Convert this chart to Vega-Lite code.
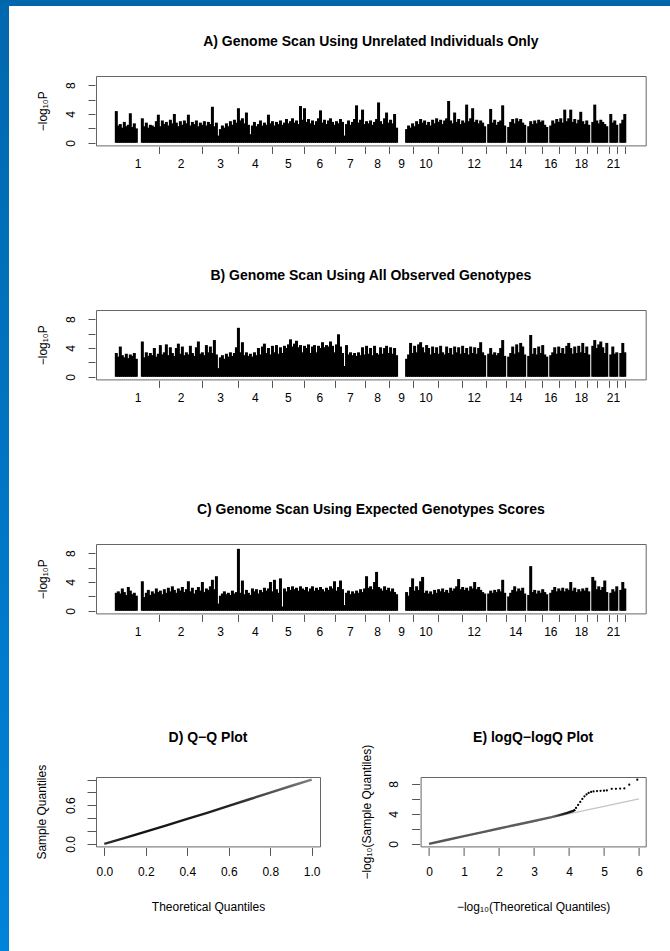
{
  "$schema": "https://vega.github.io/schema/vega-lite/v6.json",
  "background": "white",
  "padding": 0,
  "bounds": "flush",
  "spacing": 0,
  "config": {
    "font": "Liberation Sans",
    "axis": {"grid": false, "domain": false, "tickColor": "#555", "tickWidth": 1, "labelColor": "#000", "labelFontSize": 12, "labelFont": "Liberation Sans", "titleFont": "Liberation Sans", "titleFontSize": 12, "titleFontWeight": "normal", "titleColor": "#000", "labelOverlap": false, "labelFlush": false, "labelBound": false},
    "title": {"fontSize": 14, "fontWeight": "bold", "font": "Liberation Sans", "anchor": "middle", "frame": "group", "color": "#000", "baseline": "bottom"}
  },
  "datasets": {
    "gw": [
      {"p":0,"a":4.4,"b":3.3,"c":2.5},{"p":2,"a":2.4,"b":2.8,"c":2.7},{"p":4,"a":2.6,"b":4.2,"c":2.4},{"p":6,"a":2.1,"b":3.0,"c":3.1},{"p":8,"a":2.9,"b":2.7,"c":2.6},{"p":10,"a":2.3,"b":3.2,"c":2.2},{"p":12,"a":2.5,"b":2.6,"c":3.3},{"p":14,"a":4.1,"b":3.1,"c":2.8},{"p":16,"a":2.2,"b":2.9,"c":2.3},{"p":18,"a":2.7,"b":3.3,"c":2.5},{"p":20,"a":2.0,"b":2.5,"c":2.1},
      {"p":26,"a":3.4,"b":4.9,"c":4.1},{"p":28,"a":2.3,"b":2.7,"c":1.9},{"p":30,"a":2.8,"b":3.4,"c":2.5},{"p":32,"a":2.1,"b":2.9,"c":2.9},{"p":34,"a":2.5,"b":3.3,"c":2.2},{"p":36,"a":2.4,"b":3.0,"c":2.7},{"p":38,"a":2.2,"b":4.0,"c":2.4},
      {"p":40,"a":3.0,"b":2.8,"c":3.1},{"p":42,"a":3.9,"b":3.2,"c":2.6},{"p":44,"a":2.3,"b":4.4,"c":2.8},{"p":46,"a":3.1,"b":3.1,"c":2.3},{"p":48,"a":2.6,"b":3.4,"c":3.0},{"p":50,"a":2.9,"b":4.5,"c":2.5},{"p":52,"a":2.4,"b":3.0,"c":3.2},{"p":54,"a":3.2,"b":4.1,"c":2.7},{"p":56,"a":2.7,"b":3.3,"c":3.4},{"p":58,"a":4.0,"b":2.9,"c":2.9},
      {"p":60,"a":2.8,"b":4.0,"c":2.5},{"p":62,"a":2.3,"b":4.6,"c":3.1},{"p":64,"a":3.0,"b":3.2,"c":2.8},{"p":66,"a":2.5,"b":4.2,"c":3.3},{"p":68,"a":3.1,"b":3.0,"c":2.6},{"p":70,"a":2.7,"b":3.4,"c":3.0},{"p":72,"a":3.9,"b":3.1,"c":4.1},{"p":74,"a":2.4,"b":4.3,"c":2.7},{"p":76,"a":2.9,"b":3.3,"c":3.2},{"p":78,"a":2.6,"b":2.9,"c":2.4},
      {"p":80,"a":3.1,"b":4.1,"c":2.9},{"p":82,"a":2.3,"b":4.9,"c":3.3},{"p":84,"a":2.8,"b":3.2,"c":2.8},{"p":86,"a":2.5,"b":3.4,"c":4.0},{"p":88,"a":3.0,"b":3.0,"c":2.6},{"p":90,"a":2.4,"b":4.4,"c":3.1},{"p":92,"a":2.9,"b":3.4,"c":2.9},{"p":94,"a":2.6,"b":4.2,"c":3.4},{"p":96,"a":5.0,"b":3.3,"c":4.3},{"p":98,"a":2.3,"b":5.1,"c":3.0},
      {"p":100,"a":2.8,"b":3.1,"c":4.8},{"p":102,"a":1.0,"b":1.2,"c":1.0},{"p":104,"a":1.9,"b":2.7,"c":2.1},{"p":106,"a":2.4,"b":3.0,"c":2.4},{"p":108,"a":2.1,"b":2.5,"c":2.7},{"p":110,"a":2.7,"b":3.2,"c":2.3},{"p":112,"a":2.3,"b":2.8,"c":2.5},{"p":114,"a":3.0,"b":3.4,"c":2.2},{"p":116,"a":2.5,"b":2.9,"c":2.8},{"p":118,"a":3.2,"b":3.3,"c":2.4},
      {"p":120,"a":2.8,"b":4.1,"c":2.6},{"p":122,"a":4.8,"b":6.8,"c":8.6},{"p":124,"a":3.1,"b":3.4,"c":2.5},{"p":126,"a":3.4,"b":4.8,"c":4.2},{"p":128,"a":2.7,"b":3.0,"c":2.3},{"p":130,"a":4.2,"b":3.4,"c":2.9},{"p":132,"a":2.5,"b":2.9,"c":2.5},{"p":134,"a":1.2,"b":3.2,"c":2.2},{"p":136,"a":2.4,"b":2.8,"c":3.1},{"p":138,"a":2.9,"b":3.4,"c":2.7},
      {"p":140,"a":2.3,"b":3.0,"c":3.0},{"p":142,"a":2.6,"b":4.0,"c":2.4},{"p":144,"a":3.1,"b":3.1,"c":2.9},{"p":146,"a":2.4,"b":4.2,"c":2.6},{"p":148,"a":2.8,"b":4.6,"c":3.2},{"p":150,"a":2.5,"b":3.3,"c":2.8},{"p":152,"a":3.9,"b":4.0,"c":3.1},{"p":154,"a":2.7,"b":3.1,"c":4.0},{"p":156,"a":3.0,"b":4.3,"c":2.7},{"p":158,"a":2.4,"b":3.4,"c":4.3},
      {"p":160,"a":2.9,"b":4.4,"c":3.0},{"p":162,"a":2.6,"b":3.2,"c":2.5},{"p":164,"a":3.1,"b":4.1,"c":4.5},{"p":166,"a":2.5,"b":3.3,"c":0.6},{"p":168,"a":2.8,"b":4.3,"c":3.1},{"p":170,"a":3.3,"b":4.0,"c":2.7},{"p":172,"a":2.7,"b":4.5,"c":3.3},{"p":174,"a":3.0,"b":5.2,"c":2.9},{"p":176,"a":3.4,"b":4.2,"c":3.4},{"p":178,"a":2.8,"b":4.6,"c":3.0},
      {"p":180,"a":3.1,"b":5.0,"c":3.2},{"p":182,"a":2.6,"b":4.1,"c":2.8},{"p":184,"a":5.1,"b":4.4,"c":3.4},{"p":186,"a":3.2,"b":3.4,"c":3.1},{"p":188,"a":4.8,"b":4.3,"c":2.9},{"p":190,"a":2.9,"b":4.0,"c":3.3},{"p":192,"a":3.3,"b":4.5,"c":2.7},{"p":194,"a":2.7,"b":3.3,"c":3.1},{"p":196,"a":3.1,"b":4.2,"c":3.4},{"p":198,"a":2.5,"b":4.4,"c":2.8},
      {"p":200,"a":3.0,"b":3.4,"c":3.2},{"p":202,"a":3.4,"b":4.3,"c":2.9},{"p":204,"a":4.5,"b":4.0,"c":3.3},{"p":206,"a":2.8,"b":4.8,"c":3.0},{"p":208,"a":3.2,"b":4.1,"c":2.7},{"p":210,"a":2.6,"b":4.4,"c":3.2},{"p":212,"a":3.1,"b":4.2,"c":2.9},{"p":214,"a":3.4,"b":4.9,"c":3.4},{"p":216,"a":2.9,"b":4.3,"c":3.1},{"p":218,"a":2.5,"b":3.4,"c":4.1},
      {"p":220,"a":3.0,"b":4.5,"c":2.8},{"p":222,"a":2.7,"b":5.9,"c":3.3},{"p":224,"a":3.3,"b":4.2,"c":4.2},{"p":226,"a":2.9,"b":3.3,"c":3.0},{"p":228,"a":1.0,"b":1.5,"c":0.8},{"p":230,"a":2.6,"b":4.4,"c":2.5},{"p":232,"a":3.1,"b":3.1,"c":2.8},{"p":234,"a":2.5,"b":3.4,"c":2.3},{"p":236,"a":2.9,"b":3.0,"c":2.7},{"p":238,"a":3.3,"b":3.3,"c":2.4},
      {"p":240,"a":5.2,"b":2.9,"c":2.8},{"p":242,"a":2.8,"b":3.4,"c":2.5},{"p":244,"a":3.2,"b":3.0,"c":3.0},{"p":246,"a":4.6,"b":4.1,"c":2.6},{"p":248,"a":2.6,"b":3.1,"c":3.1},{"p":250,"a":3.0,"b":4.3,"c":4.8},{"p":252,"a":2.7,"b":3.2,"c":3.2},{"p":254,"a":3.1,"b":4.0,"c":3.4},{"p":256,"a":2.5,"b":3.0,"c":3.0},{"p":258,"a":2.9,"b":4.3,"c":4.0},
      {"p":260,"a":3.3,"b":3.3,"c":5.4},{"p":262,"a":5.6,"b":3.1,"c":3.3},{"p":264,"a":3.0,"b":4.1,"c":3.1},{"p":266,"a":2.6,"b":3.2,"c":2.8},{"p":268,"a":3.4,"b":4.0,"c":3.4},{"p":270,"a":4.2,"b":4.3,"c":2.9},{"p":272,"a":2.8,"b":3.3,"c":3.2},{"p":274,"a":3.2,"b":4.1,"c":2.7},{"p":276,"a":2.7,"b":3.2,"c":3.1},{"p":278,"a":4.0,"b":4.0,"c":2.6},
      {"p":280,"a":2.1,"b":3.0,"c":2.3},
      {"p":290,"a":1.9,"b":2.5,"c":2.6},{"p":292,"a":2.4,"b":3.1,"c":2.1},{"p":294,"a":2.1,"b":4.7,"c":3.3},{"p":296,"a":2.7,"b":3.3,"c":4.5},{"p":298,"a":2.3,"b":4.3,"c":2.8},
      {"p":300,"a":3.0,"b":3.4,"c":3.4},{"p":302,"a":2.6,"b":4.5,"c":2.9},{"p":304,"a":3.3,"b":4.8,"c":4.1},{"p":306,"a":2.8,"b":4.1,"c":4.7},{"p":308,"a":3.1,"b":3.4,"c":2.5},{"p":310,"a":2.5,"b":4.4,"c":2.8},{"p":312,"a":2.9,"b":4.0,"c":2.4},{"p":314,"a":2.4,"b":3.1,"c":2.7},{"p":316,"a":3.2,"b":4.2,"c":2.3},{"p":318,"a":2.7,"b":3.3,"c":2.9},
      {"p":320,"a":3.4,"b":4.1,"c":2.5},{"p":322,"a":2.9,"b":3.2,"c":3.0},{"p":324,"a":3.2,"b":4.3,"c":2.7},{"p":326,"a":2.6,"b":3.4,"c":3.1},{"p":328,"a":3.1,"b":3.1,"c":2.6},{"p":330,"a":3.4,"b":4.2,"c":2.9},{"p":332,"a":5.8,"b":3.3,"c":2.5},{"p":334,"a":3.1,"b":4.0,"c":3.2},{"p":336,"a":2.7,"b":3.1,"c":2.8},{"p":338,"a":4.2,"b":4.2,"c":3.1},
      {"p":340,"a":2.9,"b":3.4,"c":3.4},{"p":342,"a":3.3,"b":4.1,"c":4.4},{"p":344,"a":2.6,"b":3.2,"c":3.0},{"p":346,"a":3.1,"b":4.3,"c":3.3},{"p":348,"a":2.8,"b":3.3,"c":2.9},{"p":350,"a":5.3,"b":4.0,"c":3.2},{"p":352,"a":3.0,"b":3.1,"c":2.8},{"p":354,"a":3.4,"b":4.2,"c":3.4},{"p":356,"a":4.8,"b":3.3,"c":3.1},{"p":358,"a":2.9,"b":4.1,"c":4.0},
      {"p":360,"a":3.2,"b":3.2,"c":3.0},{"p":362,"a":2.7,"b":4.0,"c":3.3},{"p":364,"a":3.1,"b":4.8,"c":2.9},{"p":366,"a":2.8,"b":3.4,"c":2.6},{"p":368,"a":2.3,"b":3.0,"c":2.4},
      {"p":372,"a":2.6,"b":3.2,"c":2.4},{"p":374,"a":4.7,"b":4.0,"c":2.8},{"p":376,"a":2.8,"b":3.1,"c":2.5},{"p":378,"a":3.2,"b":3.4,"c":2.9},{"p":380,"a":2.5,"b":3.0,"c":2.6},{"p":382,"a":2.9,"b":3.3,"c":3.0},{"p":384,"a":3.1,"b":4.0,"c":2.7},{"p":386,"a":5.2,"b":5.1,"c":4.3},{"p":388,"a":2.4,"b":2.9,"c":2.5},
      {"p":392,"a":2.2,"b":2.8,"c":2.0},{"p":394,"a":2.9,"b":3.3,"c":2.5},{"p":396,"a":3.3,"b":4.2,"c":2.9},{"p":398,"a":2.7,"b":3.2,"c":3.4},{"p":400,"a":3.4,"b":4.5,"c":2.7},{"p":402,"a":3.0,"b":3.4,"c":3.1},{"p":404,"a":3.3,"b":4.7,"c":2.8},{"p":406,"a":2.8,"b":4.2,"c":3.2},{"p":408,"a":2.5,"b":3.1,"c":2.4},
      {"p":412,"a":2.3,"b":2.9,"c":2.2},{"p":414,"a":3.0,"b":5.8,"c":6.2},{"p":416,"a":2.6,"b":3.2,"c":2.6},{"p":418,"a":3.1,"b":4.0,"c":2.9},{"p":420,"a":2.7,"b":3.1,"c":2.4},{"p":422,"a":3.2,"b":4.2,"c":2.8},{"p":424,"a":2.9,"b":3.3,"c":2.5},{"p":426,"a":3.1,"b":4.4,"c":3.0},{"p":428,"a":2.5,"b":3.1,"c":2.6},{"p":430,"a":2.2,"b":2.8,"c":2.3},
      {"p":434,"a":2.4,"b":3.0,"c":2.5},{"p":436,"a":3.1,"b":3.4,"c":2.9},{"p":438,"a":2.7,"b":4.1,"c":3.3},{"p":440,"a":3.3,"b":3.2,"c":2.7},{"p":442,"a":2.9,"b":4.2,"c":3.1},{"p":444,"a":3.4,"b":3.3,"c":2.8},{"p":446,"a":2.8,"b":4.0,"c":3.2},{"p":448,"a":4.6,"b":3.2,"c":2.7},{"p":450,"a":3.0,"b":4.3,"c":3.1},{"p":452,"a":3.4,"b":4.7,"c":2.9},
      {"p":454,"a":4.6,"b":4.0,"c":4.0},{"p":456,"a":2.9,"b":3.2,"c":2.8},{"p":458,"a":3.3,"b":4.2,"c":3.2},{"p":460,"a":2.7,"b":3.3,"c":2.6},{"p":462,"a":3.2,"b":4.3,"c":3.0},{"p":464,"a":4.3,"b":3.4,"c":2.7},{"p":466,"a":3.0,"b":4.7,"c":3.1},{"p":468,"a":2.6,"b":3.3,"c":2.8},{"p":470,"a":3.1,"b":4.2,"c":3.2},{"p":472,"a":2.5,"b":3.1,"c":2.7},
      {"p":476,"a":2.9,"b":4.3,"c":4.7},{"p":478,"a":5.3,"b":5.1,"c":4.2},{"p":480,"a":3.1,"b":4.0,"c":3.0},{"p":482,"a":2.7,"b":4.5,"c":3.4},{"p":484,"a":3.2,"b":4.9,"c":2.9},{"p":486,"a":2.9,"b":4.1,"c":3.3},{"p":488,"a":2.6,"b":3.3,"c":4.2},{"p":490,"a":2.3,"b":4.7,"c":2.6},
      {"p":494,"a":4.0,"b":3.1,"c":2.5},{"p":496,"a":2.8,"b":4.2,"c":3.0},{"p":498,"a":3.1,"b":3.2,"c":2.7},{"p":500,"a":2.5,"b":3.4,"c":3.4},
      {"p":504,"a":2.7,"b":3.3,"c":2.9},{"p":506,"a":3.2,"b":4.7,"c":4.0},{"p":508,"a":4.0,"b":3.4,"c":3.1}
    ],
    "qq": [
      {"t":0,"s":0},{"t":0.1,"s":0.093},{"t":0.2,"s":0.19},{"t":0.3,"s":0.288},{"t":0.4,"s":0.387},{"t":0.5,"s":0.487},{"t":0.6,"s":0.59},{"t":0.7,"s":0.694},{"t":0.8,"s":0.797},{"t":0.9,"s":0.9},{"t":1.0,"s":1.0}
    ],
    "ref": [{"x":0,"y":0},{"x":6,"y":6}],
    "lqline": [
      {"x":0,"y":0},{"x":0.5,"y":0.52},{"x":1,"y":1.03},{"x":1.5,"y":1.54},{"x":2,"y":2.05},{"x":2.5,"y":2.55},{"x":3,"y":3.05},{"x":3.5,"y":3.56},{"x":3.75,"y":3.86},{"x":3.95,"y":4.12},{"x":4.1,"y":4.35},{"x":4.18,"y":4.55}
    ],
    "lqpts": [
      {"x":4.2,"y":4.8},{"x":4.26,"y":5.2},{"x":4.32,"y":5.6},{"x":4.38,"y":6.0},{"x":4.44,"y":6.35},{"x":4.5,"y":6.6},{"x":4.56,"y":6.8},{"x":4.63,"y":6.92},{"x":4.7,"y":7.0},{"x":4.8,"y":7.05},{"x":4.9,"y":7.08},{"x":5.0,"y":7.1},{"x":5.08,"y":7.12},{"x":5.22,"y":7.35},{"x":5.34,"y":7.35},{"x":5.46,"y":7.38},{"x":5.58,"y":7.4},{"x":5.72,"y":7.9},{"x":5.95,"y":8.56}
    ]
  },
  "vconcat": [
    {"width": 670, "height": 6, "data": {"values": [{}]}, "mark": {"type": "point", "opacity": 0}, "encoding": {}, "view": {"fill": "#0167AD", "stroke": null}},
    {
      "bounds": "flush",
      "spacing": 87,
      "hconcat": [
        {"width": 9, "height": 945, "data": {"values": [{}]}, "mark": {"type": "point", "opacity": 0}, "encoding": {}, "view": {"fill": {"gradient": "linear", "x1": 0, "y1": 0, "x2": 0, "y2": 1, "stops": [{"offset": 0, "color": "#0068AE"}, {"offset": 1, "color": "#0083DA"}]}, "stroke": null}},
        {
          "bounds": "flush",
          "spacing": 0,
          "vconcat": [
            {"width": 1, "height": 69.3, "data": {"values": [{}]}, "mark": {"type": "point", "opacity": 0}, "encoding": {}, "view": {"stroke": null}},
            {
              "width": 549.7, "height": 69.4,
              "title": {"text": "A) Genome Scan Using Unrelated Individuals Only", "offset": 27},
              "data": {"name": "gw"},
              "mark": {"type": "rule", "strokeWidth": 3, "color": "#000"},
              "encoding": {
                "x": {"field": "p", "type": "quantitative", "scale": {"domain": [-20.3, 528.9], "nice": false, "zero": false},
                  "axis": {"title": null, "values": [42.6,86,121.3,155.3,187.3,218.3,248.3,272.6,296.6,321,345.3,369,389,408.3,425.3,442,458.3,470,480.6,492,500.3,508.6,21.3,64.3,103.65,138.3,171.3,202.8,233.3,260.45,284.6,308.8,357.15,398.65,433.65,464.15,496.15],
                    "labelExpr": "indexof([21.3,64.3,103.65,138.3,171.3,202.8,233.3,260.45,284.6,308.8,357.15,398.65,433.65,464.15,496.15], datum.value) >= 0 ? ['1','2','3','4','5','6','7','8','9','10','12','14','16','18','21'][indexof([21.3,64.3,103.65,138.3,171.3,202.8,233.3,260.45,284.6,308.8,357.15,398.65,433.65,464.15,496.15], datum.value)] : ''",
                    "tickOpacity": {"condition": {"test": "indexof([42.6,86,121.3,155.3,187.3,218.3,248.3,272.6,296.6,321,345.3,369,389,408.3,425.3,442,458.3,470,480.6,492,500.3,508.6], datum.value) >= 0", "value": 1}, "value": 0},
                    "tickSize": 7, "offset": 1, "labelPadding": 5}},
                "y": {"field": "a", "type": "quantitative", "scale": {"domain": [-0.36, 9.27], "nice": false, "zero": false},
                  "axis": {"title": "−log₁₀P", "values": [0,2,4,6,8], "labelExpr": "datum.value % 4 == 0 ? datum.label : ''", "labelAngle": -90, "labelAlign": "center", "labelBaseline": "bottom", "tickSize": 7, "offset": 1, "labelPadding": 11, "titlePadding": 15}},
                "y2": {"datum": 0}
              },
              "view": {"stroke": "#666"}
            },
            {"width": 1, "height": 163.8, "data": {"values": [{}]}, "mark": {"type": "point", "opacity": 0}, "encoding": {}, "view": {"stroke": null}},
            {
              "width": 549.7, "height": 69.4,
              "title": {"text": "B) Genome Scan Using All Observed Genotypes", "offset": 27},
              "data": {"name": "gw"},
              "mark": {"type": "rule", "strokeWidth": 3, "color": "#000"},
              "encoding": {
                "x": {"field": "p", "type": "quantitative", "scale": {"domain": [-20.3, 528.9], "nice": false, "zero": false},
                  "axis": {"title": null, "values": [42.6,86,121.3,155.3,187.3,218.3,248.3,272.6,296.6,321,345.3,369,389,408.3,425.3,442,458.3,470,480.6,492,500.3,508.6,21.3,64.3,103.65,138.3,171.3,202.8,233.3,260.45,284.6,308.8,357.15,398.65,433.65,464.15,496.15],
                    "labelExpr": "indexof([21.3,64.3,103.65,138.3,171.3,202.8,233.3,260.45,284.6,308.8,357.15,398.65,433.65,464.15,496.15], datum.value) >= 0 ? ['1','2','3','4','5','6','7','8','9','10','12','14','16','18','21'][indexof([21.3,64.3,103.65,138.3,171.3,202.8,233.3,260.45,284.6,308.8,357.15,398.65,433.65,464.15,496.15], datum.value)] : ''",
                    "tickOpacity": {"condition": {"test": "indexof([42.6,86,121.3,155.3,187.3,218.3,248.3,272.6,296.6,321,345.3,369,389,408.3,425.3,442,458.3,470,480.6,492,500.3,508.6], datum.value) >= 0", "value": 1}, "value": 0},
                    "tickSize": 7, "offset": 1, "labelPadding": 5}},
                "y": {"field": "b", "type": "quantitative", "scale": {"domain": [-0.36, 9.27], "nice": false, "zero": false},
                  "axis": {"title": "−log₁₀P", "values": [0,2,4,6,8], "labelExpr": "datum.value % 4 == 0 ? datum.label : ''", "labelAngle": -90, "labelAlign": "center", "labelBaseline": "bottom", "tickSize": 7, "offset": 1, "labelPadding": 11, "titlePadding": 15}},
                "y2": {"datum": 0}
              },
              "view": {"stroke": "#666"}
            },
            {"width": 1, "height": 163.8, "data": {"values": [{}]}, "mark": {"type": "point", "opacity": 0}, "encoding": {}, "view": {"stroke": null}},
            {
              "width": 549.7, "height": 69.4,
              "title": {"text": "C) Genome Scan Using Expected Genotypes Scores", "offset": 27},
              "data": {"name": "gw"},
              "mark": {"type": "rule", "strokeWidth": 3, "color": "#000"},
              "encoding": {
                "x": {"field": "p", "type": "quantitative", "scale": {"domain": [-20.3, 528.9], "nice": false, "zero": false},
                  "axis": {"title": null, "values": [42.6,86,121.3,155.3,187.3,218.3,248.3,272.6,296.6,321,345.3,369,389,408.3,425.3,442,458.3,470,480.6,492,500.3,508.6,21.3,64.3,103.65,138.3,171.3,202.8,233.3,260.45,284.6,308.8,357.15,398.65,433.65,464.15,496.15],
                    "labelExpr": "indexof([21.3,64.3,103.65,138.3,171.3,202.8,233.3,260.45,284.6,308.8,357.15,398.65,433.65,464.15,496.15], datum.value) >= 0 ? ['1','2','3','4','5','6','7','8','9','10','12','14','16','18','21'][indexof([21.3,64.3,103.65,138.3,171.3,202.8,233.3,260.45,284.6,308.8,357.15,398.65,433.65,464.15,496.15], datum.value)] : ''",
                    "tickOpacity": {"condition": {"test": "indexof([42.6,86,121.3,155.3,187.3,218.3,248.3,272.6,296.6,321,345.3,369,389,408.3,425.3,442,458.3,470,480.6,492,500.3,508.6], datum.value) >= 0", "value": 1}, "value": 0},
                    "tickSize": 7, "offset": 1, "labelPadding": 5}},
                "y": {"field": "c", "type": "quantitative", "scale": {"domain": [-0.36, 9.27], "nice": false, "zero": false},
                  "axis": {"title": "−log₁₀P", "values": [0,2,4,6,8], "labelExpr": "datum.value % 4 == 0 ? datum.label : ''", "labelAngle": -90, "labelAlign": "center", "labelBaseline": "bottom", "tickSize": 7, "offset": 1, "labelPadding": 11, "titlePadding": 15}},
                "y2": {"datum": 0}
              },
              "view": {"stroke": "#666"}
            },
            {"width": 1, "height": 162.8, "data": {"values": [{}]}, "mark": {"type": "point", "opacity": 0}, "encoding": {}, "view": {"stroke": null}},
            {
              "bounds": "flush",
              "spacing": 100.6,
              "hconcat": [
                {
                  "width": 224, "height": 69.4,
                  "title": {"text": "D) Q−Q Plot", "offset": 19},
                  "data": {"name": "qq"},
                  "mark": {"type": "line", "strokeWidth": 2.4, "color": {"gradient": "linear", "x1": 0, "y1": 0, "x2": 1, "y2": 0, "stops": [{"offset": 0, "color": "#333"}, {"offset": 0.15, "color": "#111"}, {"offset": 0.6, "color": "#222"}, {"offset": 1, "color": "#808080"}]}},
                  "encoding": {
                    "x": {"field": "t", "type": "quantitative", "scale": {"domain": [-0.04, 1.04], "nice": false, "zero": false},
                      "axis": {"title": "Theoretical Quantiles", "values": [0,0.2,0.4,0.6,0.8,1], "format": ".1f", "tickSize": 8, "offset": 1, "labelPadding": 11, "titlePadding": 24}},
                    "y": {"field": "s", "type": "quantitative", "scale": {"domain": [-0.04, 1.04], "nice": false, "zero": false},
                      "axis": {"title": "Sample Quantiles", "values": [0,0.2,0.4,0.6,0.8,1], "labelExpr": "datum.value == 0 || abs(datum.value - 0.6) < 0.001 ? format(datum.value, '.1f') : ''", "labelAngle": -90, "labelAlign": "center", "labelBaseline": "bottom", "tickSize": 9, "offset": 0, "labelPadding": 10, "titlePadding": 16}}
                  },
                  "view": {"stroke": "#666"}
                },
                {
                  "width": 225.1, "height": 69.4,
                  "title": {"text": "E) logQ−logQ Plot", "offset": -1},
                  "view": {"stroke": "#666"},
                  "encoding": {
                    "x": {"field": "x", "type": "quantitative", "scale": {"domain": [-0.24, 6.19], "nice": false, "zero": false},
                      "axis": {"title": "−log₁₀(Theoretical Quantiles)", "values": [0,1,2,3,4,5,6], "tickSize": 8, "offset": 1, "labelPadding": 11, "titlePadding": 24}},
                    "y": {"field": "y", "type": "quantitative", "scale": {"domain": [-0.34, 8.92], "nice": false, "zero": false},
                      "axis": {"title": "−log₁₀(Sample Quantiles)", "values": [0,2,4,6,8], "labelExpr": "datum.value % 4 == 0 ? datum.label : ''", "labelAngle": -90, "labelAlign": "center", "labelBaseline": "bottom", "tickSize": 8, "offset": 1, "labelPadding": 11, "titlePadding": 14}}
                  },
                  "layer": [
                    {
                      "data": {"name": "ref"},
                      "mark": {"type": "line", "strokeWidth": 1.3, "color": "#c4c4c4"}
                    },
                    {
                      "data": {"name": "lqline"},
                      "mark": {"type": "line", "strokeWidth": 2.4, "color": {"gradient": "linear", "x1": 0, "y1": 0, "x2": 1, "y2": 0, "stops": [{"offset": 0, "color": "#555"}, {"offset": 0.85, "color": "#606060"}, {"offset": 0.92, "color": "#222"}, {"offset": 1, "color": "#000"}]}}
                    },
                    {
                      "data": {"name": "lqpts"},
                      "mark": {"type": "point", "filled": true, "size": 5, "color": "#000", "opacity": 1}
                    }
                  ]
                }
              ]
            }
          ]
        }
      ]
    }
  ]
}
